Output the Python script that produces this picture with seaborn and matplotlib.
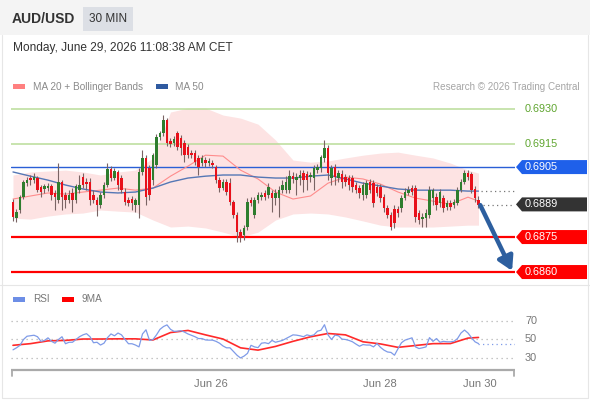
import numpy as np
import pandas as pd
import matplotlib
matplotlib.use("Agg")
import matplotlib.pyplot as plt
import seaborn as sns
from matplotlib.patches import Rectangle, Polygon
from matplotlib.lines import Line2D
from matplotlib.transforms import blended_transform_factory

sns.set_theme(style="white")
plt.rcParams['font.family'] = ['Liberation Sans', 'DejaVu Sans']

# ---------------- data ----------------
open_ = [0.68900, 0.68831, 0.68866, 0.68921, 0.68981, 0.69003, 0.68994, 0.69003, 0.68964, 0.68956,
         0.68960, 0.68969, 0.68939, 0.68909, 0.68986, 0.68930, 0.68909, 0.68939, 0.68909, 0.68951,
         0.69007, 0.68986, 0.68986, 0.68930, 0.68909, 0.68887, 0.68930, 0.68973, 0.69041, 0.69003,
         0.69029, 0.69003, 0.68943, 0.68909, 0.68913, 0.68887, 0.68887, 0.69029, 0.69089, 0.69046,
         0.68994, 0.69059, 0.69179, 0.69196, 0.69251, 0.69161, 0.69153, 0.69196, 0.69174, 0.69153,
         0.69136, 0.69110, 0.69110, 0.69089, 0.69067, 0.69080, 0.69067, 0.69067, 0.69050, 0.68994,
         0.68960, 0.68986, 0.68981, 0.68900, 0.68844, 0.68771, 0.68759, 0.68793, 0.68909, 0.68844,
         0.68909, 0.68921, 0.68939, 0.68930, 0.68939, 0.68917, 0.68917, 0.68951, 0.68951, 0.68951,
         0.69011, 0.68994, 0.69003, 0.69024, 0.69020, 0.69007, 0.69003, 0.69037, 0.69046, 0.69089,
         0.69131, 0.69003, 0.69050, 0.69003, 0.69020, 0.69007, 0.69003, 0.69003, 0.68973, 0.68960,
         0.68930, 0.68930, 0.68986, 0.68981, 0.68964, 0.68964, 0.68921, 0.68874, 0.68844, 0.68870,
         0.68870, 0.68874, 0.68917, 0.68939, 0.68960, 0.68960, 0.68853, 0.68827, 0.68831, 0.68844,
         0.68917, 0.68921, 0.68896, 0.68917, 0.68879, 0.68896, 0.68887, 0.68896, 0.68951, 0.68986,
         0.69024, 0.69020, 0.68956, 0.68909]
close = [0.68836, 0.68857, 0.68921, 0.68986, 0.68994, 0.68994, 0.69007, 0.68951, 0.68943, 0.68969,
         0.68969, 0.68930, 0.68921, 0.68986, 0.68921, 0.68909, 0.68930, 0.68909, 0.68969, 0.68973,
         0.68973, 0.68977, 0.68909, 0.68909, 0.68887, 0.68930, 0.68973, 0.69041, 0.69003, 0.69033,
         0.68973, 0.68951, 0.68900, 0.68896, 0.68896, 0.68909, 0.69029, 0.69089, 0.68921, 0.68930,
         0.69101, 0.69179, 0.69196, 0.69251, 0.69153, 0.69149, 0.69170, 0.69136, 0.69131, 0.69101,
         0.69101, 0.69101, 0.69071, 0.69050, 0.69089, 0.69067, 0.69076, 0.69059, 0.68994, 0.68960,
         0.68986, 0.68943, 0.68900, 0.68844, 0.68771, 0.68746, 0.68789, 0.68900, 0.68896, 0.68909,
         0.68930, 0.68930, 0.68921, 0.68964, 0.68917, 0.68939, 0.68951, 0.68973, 0.68986, 0.69011,
         0.68999, 0.69007, 0.69016, 0.68994, 0.68994, 0.69016, 0.69046, 0.69050, 0.69093, 0.69131,
         0.69024, 0.69046, 0.69007, 0.69024, 0.68986, 0.68986, 0.68973, 0.68964, 0.68951, 0.68939,
         0.68973, 0.68981, 0.68951, 0.68896, 0.68939, 0.68917, 0.68874, 0.68844, 0.68793, 0.68810,
         0.68853, 0.68917, 0.68943, 0.68951, 0.68943, 0.68836, 0.68823, 0.68836, 0.68853, 0.68951,
         0.68951, 0.68887, 0.68943, 0.68874, 0.68896, 0.68879, 0.68900, 0.68951, 0.68986, 0.69024,
         0.69007, 0.68951, 0.68917, 0.68887]
high = [0.68913, 0.68870, 0.68930, 0.68994, 0.69007, 0.69016, 0.69024, 0.69011, 0.68973, 0.68977,
        0.68981, 0.68977, 0.68951, 0.69067, 0.68994, 0.68943, 0.68951, 0.68960, 0.68977, 0.69016,
        0.69024, 0.69003, 0.69003, 0.68951, 0.68921, 0.68943, 0.68986, 0.69067, 0.69054, 0.69046,
        0.69037, 0.69016, 0.68960, 0.68921, 0.68926, 0.68917, 0.69046, 0.69123, 0.69101, 0.69059,
        0.69110, 0.69191, 0.69204, 0.69273, 0.69260, 0.69174, 0.69183, 0.69204, 0.69187, 0.69166,
        0.69149, 0.69123, 0.69123, 0.69101, 0.69101, 0.69093, 0.69089, 0.69080, 0.69059, 0.69007,
        0.68999, 0.68999, 0.69003, 0.68909, 0.68857, 0.68784, 0.68801, 0.68917, 0.68921, 0.68921,
        0.68943, 0.68943, 0.68951, 0.68981, 0.68951, 0.68956, 0.68969, 0.68994, 0.69011, 0.69037,
        0.69029, 0.69024, 0.69037, 0.69037, 0.69033, 0.69029, 0.69059, 0.69063, 0.69101, 0.69166,
        0.69144, 0.69059, 0.69063, 0.69037, 0.69037, 0.69020, 0.69016, 0.69016, 0.68986, 0.68973,
        0.68986, 0.68994, 0.68999, 0.68994, 0.68977, 0.68977, 0.68934, 0.68887, 0.68857, 0.68887,
        0.68883, 0.68930, 0.68960, 0.68969, 0.68973, 0.68973, 0.68866, 0.68853, 0.68870, 0.68969,
        0.68960, 0.68939, 0.68956, 0.68930, 0.68909, 0.68909, 0.68913, 0.68964, 0.68999, 0.69037,
        0.69037, 0.69029, 0.68969, 0.68926]
low = [0.68819, 0.68814, 0.68853, 0.68913, 0.68969, 0.68973, 0.68981, 0.68943, 0.68921, 0.68939,
       0.68947, 0.68909, 0.68866, 0.68896, 0.68866, 0.68874, 0.68896, 0.68857, 0.68896, 0.68939,
       0.68960, 0.68951, 0.68887, 0.68896, 0.68840, 0.68874, 0.68917, 0.68964, 0.68990, 0.68994,
       0.68951, 0.68939, 0.68887, 0.68883, 0.68866, 0.68857, 0.68831, 0.69016, 0.68887, 0.68909,
       0.68973, 0.69046, 0.69166, 0.69183, 0.69140, 0.69136, 0.69140, 0.69123, 0.69101, 0.69071,
       0.69089, 0.69089, 0.69059, 0.69016, 0.69054, 0.69050, 0.69054, 0.69046, 0.68981, 0.68943,
       0.68951, 0.68930, 0.68887, 0.68831, 0.68729, 0.68729, 0.68737, 0.68780, 0.68883, 0.68831,
       0.68896, 0.68909, 0.68909, 0.68917, 0.68857, 0.68887, 0.68836, 0.68939, 0.68939, 0.68939,
       0.68981, 0.68930, 0.68973, 0.68943, 0.68951, 0.68986, 0.68951, 0.69024, 0.69029, 0.69071,
       0.68994, 0.68973, 0.68973, 0.68986, 0.68960, 0.68969, 0.68951, 0.68943, 0.68939, 0.68917,
       0.68909, 0.68917, 0.68939, 0.68879, 0.68926, 0.68900, 0.68857, 0.68831, 0.68780, 0.68789,
       0.68836, 0.68857, 0.68909, 0.68930, 0.68930, 0.68814, 0.68806, 0.68793, 0.68793, 0.68831,
       0.68887, 0.68866, 0.68879, 0.68857, 0.68866, 0.68866, 0.68874, 0.68887, 0.68943, 0.68977,
       0.68994, 0.68939, 0.68900, 0.68874]

# indicator samples (every 5 bars + last bar)
ma_idx = [0, 5, 10, 15, 20, 25, 30, 35, 40, 45, 50, 55, 60, 65, 70, 75, 80, 85, 90,
          95, 100, 105, 110, 115, 120, 125, 130, 133]
ma20 = [0.68913, 0.68926, 0.68939, 0.68934, 0.68943, 0.68951, 0.68960, 0.68951, 0.68960, 0.69011,
        0.69054, 0.69101, 0.69097, 0.69037, 0.68999, 0.68943, 0.68913, 0.68926, 0.68981, 0.69007,
        0.68999, 0.68977, 0.68943, 0.68917, 0.68904, 0.68891, 0.68921, 0.68904]
bb_upper = [0.69016, 0.69029, 0.69033, 0.69037, 0.69029, 0.69016, 0.69029, 0.69037, 0.69089, 0.69286,
            0.69303, 0.69303, 0.69273, 0.69260, 0.69234, 0.69166, 0.69080, 0.69071, 0.69076, 0.69089,
            0.69101, 0.69110, 0.69114, 0.69101, 0.69089, 0.69067, 0.69037, 0.69024]
bb_lower = [0.68831, 0.68827, 0.68840, 0.68849, 0.68853, 0.68866, 0.68861, 0.68857, 0.68823, 0.68793,
            0.68797, 0.68789, 0.68771, 0.68750, 0.68771, 0.68823, 0.68849, 0.68853, 0.68849, 0.68836,
            0.68819, 0.68801, 0.68793, 0.68793, 0.68793, 0.68797, 0.68801, 0.68801]
ma50 = [0.69029, 0.69011, 0.68994, 0.68973, 0.68956, 0.68943, 0.68939, 0.68943, 0.68960, 0.68986,
        0.69003, 0.69011, 0.69016, 0.69016, 0.69007, 0.69003, 0.69003, 0.69011, 0.69016, 0.68999,
        0.68981, 0.68969, 0.68956, 0.68951, 0.68951, 0.68951, 0.68947, 0.68947]

rsi = [38.8, 41, 43.7, 50, 53.5, 54, 54.6, 53, 48, 49,
       51.8, 48, 46, 50, 53, 45.4, 47, 47, 50, 53,
       55, 56.3, 53, 46.5, 47, 44, 46, 52, 56, 54,
       57, 55, 50, 45.4, 45.4, 44, 42, 56, 60.5, 49,
       50, 55, 61, 64, 65.8, 61, 58.8, 59, 59.5, 58,
       56, 54.5, 53, 51, 51, 49.5, 49.3, 49.3, 48, 46,
       43, 41, 41, 37, 33, 30, 32, 35, 43.7, 42,
       41.2, 46, 46.5, 45.5, 49, 47, 48, 49, 51, 53,
       55, 54.7, 54, 53, 55, 54, 55, 59, 60, 66,
       55, 50, 54.7, 54, 50.4, 50, 49, 47.5, 45, 42.7,
       44.5, 44, 44, 42, 45.6, 41.5, 38.5, 36.5, 36, 33,
       40, 46.5, 49.3, 50.5, 51.8, 42, 40.2, 41, 42, 52,
       48, 51, 47, 48, 47.5, 47.5, 48, 51, 57, 60.2,
       57, 52, 47.5, 45.6]
rsi_ma9 = [43.7, 45.5, 48.5, 49, 50.5, 50.5, 50.7, 50.7, 49.5, 57.5,
           59.8, 55, 50.5, 41, 38.5, 42.5, 48, 52.9, 56.5, 55,
           47.5, 45.2, 41.5, 43.5, 45.5, 45.6, 51.5, 52.2]

support_levels = [0.6875, 0.6860]
resistance_levels = [0.6930, 0.6915]
pivot_level = 0.6905
last_price = 0.6889
date_ticks = [56.6, 104.9, 133.4]
date_labels = ["Jun 26", "Jun 28", "Jun 30"]
rsi_levels = [70, 50, 30]

# ---------------- figure ----------------
W, H = 590, 400
fig = plt.figure(figsize=(W / 100, H / 100), dpi=100)
fig.patch.set_facecolor("white")

def fr(x, y):
    return x / W, 1 - y / H

# header band
fig.patches.append(Rectangle((0, 1 - 35 / H), 1, 35 / H, transform=fig.transFigure,
                             fc="#f4f4f4", ec="none", zorder=0))
fig.patches.append(Rectangle(fr(83, 31), 50 / W, 24 / H, transform=fig.transFigure,
                             fc="#dcdfe5", ec="none", zorder=1))
fig.text(*fr(12, 19), "AUD/USD", fontsize=10, fontweight="bold", color="#333333", va="center")
fig.text(*fr(108, 19), "30 MIN", fontsize=8.5, color="#333333", va="center", ha="center")
fig.text(*fr(13, 48), "Monday, June 29, 2026 11:08:38 AM CET", fontsize=8.6,
         color="#333333", va="center")

# legend of main panel
fig.patches.append(Rectangle(fr(13, 89), 12 / W, 5 / H, transform=fig.transFigure,
                             fc="#ff8080", ec="none"))
fig.text(*fr(33, 86.5), "MA 20 + Bollinger Bands", fontsize=7.2, color="#8a8a8a", va="center")
fig.patches.append(Rectangle(fr(156, 89), 12 / W, 5 / H, transform=fig.transFigure,
                             fc="#2f5aa0", ec="none"))
fig.text(*fr(175, 86.5), "MA 50", fontsize=7.2, color="#8a8a8a", va="center")
fig.text(*fr(580, 86.5), "Research © 2026 Trading Central", fontsize=7.1, color="#a5a5a5",
         va="center", ha="right")

# frame lines
for (x0, y0, x1, y1) in [(2, 35, 2, 398), (588, 35, 588, 398), (2, 398, 588, 398), (0, 284.5, 590, 284.5)]:
    fig.lines.append(Line2D([x0 / W, x1 / W], [1 - y0 / H, 1 - y1 / H], transform=fig.transFigure,
                            color="#e6e6e6", lw=0.8))

# ---------------- main price panel ----------------
ax = fig.add_axes([11 / W, 1 - 283 / H, 504 / W, 188 / H])
ax.set_xlim(-0.57, 143.43)
ax.set_ylim(0.68553, 0.69359)
for s in ax.spines.values():
    s.set_visible(False)
ax.set_xticks([]); ax.set_yticks([])
ax.set_facecolor("none")

idx = np.arange(len(close))
o = np.array(open_); c = np.array(close); hi = np.array(high); lo = np.array(low)

ax.fill_between(ma_idx, bb_lower, bb_upper, color="#fde3e3", lw=0, zorder=1)
sns.lineplot(x=ma_idx, y=ma20, ax=ax, color="#ff8c8c", lw=0.8, zorder=2, legend=False)
sns.lineplot(x=ma_idx, y=ma50, ax=ax, color="#5577b5", lw=1.0, zorder=2, legend=False)

for lvl in resistance_levels:
    ax.axhline(lvl, color="#b9dc98", lw=1.1, zorder=1.5)
ax.axhline(pivot_level, color="#2a5fd6", lw=1.0, zorder=1.5)
for lvl in support_levels:
    ax.axhline(lvl, color="#ff0000", lw=1.6, zorder=1.5)

# candles
ax.vlines(idx, np.minimum(lo, np.minimum(o, c)), np.maximum(hi, np.maximum(o, c)),
          color="#7a6464", lw=0.8, zorder=3)
up = c >= o
body = np.maximum(np.abs(c - o), 0.00004)
ax.bar(idx, body, bottom=np.minimum(o, c), width=0.72,
       color=np.where(up, "#2e7d2e", "#e8101a"), lw=0, zorder=4)

# dotted extensions
ax.plot([idx[-1] + 0.6, 143.4], [ma50[-1], ma50[-1]], color="#777777", lw=0.9,
        ls=(0, (1, 2.6)), zorder=3)
ax.plot([idx[-1] + 1.2, 143.4], [c[-1], c[-1]], color="#777777", lw=0.9,
        ls=(0, (1, 2.6)), zorder=3)

# arrow to target
ax.annotate("", xy=(142.6, support_levels[1] + 0.00005), xytext=(idx[-1] + 0.5, c[-1]),
            arrowprops=dict(arrowstyle="-|>,head_length=0.55,head_width=0.32",
                            mutation_scale=15, lw=3.2, color="#2d5f9f",
                            shrinkA=0, shrinkB=0), zorder=6, annotation_clip=False)

# right-hand labels
tr = blended_transform_factory(fig.transFigure, ax.transData)
hpx = (0.69359 - 0.68553) / 188.0
half = 7 * hpx
def tag(level, text, fc):
    poly = Polygon([(516 / W, level), (522 / W, level + half), (587 / W, level + half),
                    (587 / W, level - half), (522 / W, level - half)],
                   closed=True, transform=tr, fc=fc, ec="none", clip_on=False, zorder=7)
    ax.add_patch(poly)
    ax.text(525 / W, level, text, transform=tr, color="white", fontsize=7.8,
            va="center", ha="left", clip_on=False, zorder=8)

for lvl in resistance_levels:
    ax.text(525 / W, lvl, f"{lvl:.4f}", transform=tr, color="#5fa52f", fontsize=7.8,
            va="center", ha="left", clip_on=False)
tag(pivot_level, f"{pivot_level:.4f}", "#1f60ea")
tag(last_price, f"{last_price:.4f}", "#333333")
for lvl in support_levels:
    tag(lvl, f"{lvl:.4f}", "#ff0000")

# ---------------- RSI panel ----------------
ax2 = fig.add_axes([11 / W, 1 - 370 / H, 504 / W, 65 / H])
ax2.set_xlim(-0.57, 143.43)
ax2.set_ylim(17.0, 87.3)
ax2.set_facecolor("none")
for s in ax2.spines.values():
    s.set_visible(False)
ax2.set_yticks([])
for lvl in rsi_levels:
    ax2.axhline(lvl, color="#b4b4b4", lw=0.9, ls=(0, (1, 3)), zorder=1)
    ax2.text(525 / W, lvl, str(lvl), transform=blended_transform_factory(fig.transFigure, ax2.transData),
             color="#777777", fontsize=7.8, va="center", ha="left", clip_on=False)

sns.lineplot(x=idx, y=rsi, ax=ax2, color="#7f9be8", lw=0.9, zorder=3, legend=False)
sns.lineplot(x=ma_idx, y=rsi_ma9, ax=ax2, color="#ff2a2a", lw=1.2, zorder=2, legend=False)
ax2.plot([idx[-1], 143.4], [rsi[-1], rsi[-1]], color="#7f9be8", lw=0.9, ls=(0, (1, 2.6)))

# bottom axis line with end ticks
ax2.plot([0, 1], [0, 0], transform=ax2.transAxes, color="#aaaaaa", lw=1.6, clip_on=False,
         solid_capstyle="butt")
for xe in (0.002, 0.998):
    ax2.plot([xe, xe], [0, -0.085], transform=ax2.transAxes, color="#aaaaaa", lw=1.3,
             clip_on=False)
ax2.set_xticks(date_ticks)
ax2.set_xticklabels(date_labels)
ax2.tick_params(axis="x", length=0, pad=6.5, labelsize=8, labelcolor="#777777")
ax2.set_xlabel(""); ax2.set_ylabel("")
ax.set_xlabel(""); ax.set_ylabel("")

# RSI legend
fig.patches.append(Rectangle(fr(13, 301.5), 12 / W, 5 / H, transform=fig.transFigure,
                             fc="#6d8ee6", ec="none"))
fig.text(*fr(33, 299), "RSI", fontsize=7.2, color="#777777", va="center")
fig.patches.append(Rectangle(fr(62, 301.5), 12 / W, 5 / H, transform=fig.transFigure,
                             fc="#ff0000", ec="none"))
fig.text(*fr(82, 299), "9MA", fontsize=7.2, color="#777777", va="center")

fig.savefig("out.png", dpi=100, facecolor="white")
